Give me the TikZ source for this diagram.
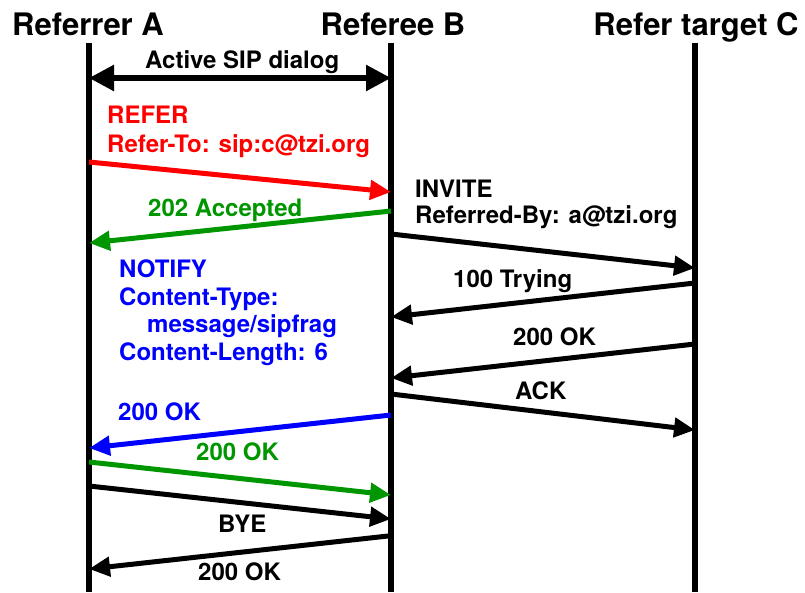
\documentclass[tikz,border=0pt]{standalone}
\usepackage{fontspec}
\setmainfont{TeX Gyre Heros}
\usetikzlibrary{arrows.meta}
\definecolor{sipred}{RGB}{255,0,0}
\definecolor{sipgreen}{RGB}{0,150,0}
\definecolor{sipblue}{RGB}{0,0,255}
\begin{document}
\begin{tikzpicture}[x=1pt,y=-1pt,
  lifeline/.style={line width=5.5pt},
  msg/.style={line width=5pt,-{Triangle[length=21pt,width=19pt]}},
  dmsg/.style={line width=5.5pt,{Triangle[length=25pt,width=25pt]}-{Triangle[length=25pt,width=25pt]}},
  title/.style={font=\bfseries\fontsize{31}{36}\selectfont,anchor=base,inner sep=0pt},
  lbl/.style={font=\bfseries\fontsize{24}{28}\selectfont,anchor=base west,inner sep=0pt}]
\useasboundingbox (0,0) rectangle (805,592);
% titles
\node[title] (tA) at (88,35) {Referrer A};
\node[title] (tB) at (393,35) {Referee B};
\node[title] (tC) at (696,35) {Refer target C};
% lifelines
\coordinate (A0) at (89,43); \coordinate (A1) at (89,592);
\coordinate (B0) at (391,43); \coordinate (B1) at (391,592);
\coordinate (C0) at (695,43); \coordinate (C1) at (695,592);
\draw[lifeline] (A0) -- (A1);
\draw[lifeline] (B0) -- (B1);
\draw[lifeline] (C0) -- (C1);
% active dialog
\coordinate (d1) at (89,78); \coordinate (d2) at (391,78);
\draw[dmsg] (d1) -- (d2);
\node[lbl] (ldlg) at (145,68) {Active SIP dialog};
% REFER
\coordinate (r1) at (89,162); \coordinate (r2) at (391,192);
\draw[msg,sipred] (r1) -- (r2);
\node[lbl,text=sipred] (lref1) at (107,123) {REFER};
\node[lbl,text=sipred] (lref2) at (107,152) {Refer-To: sip:c@tzi.org};
% 202 Accepted
\coordinate (g1) at (391,211); \coordinate (g2) at (89,243);
\draw[msg,sipgreen] (g1) -- (g2);
\node[lbl,text=sipgreen] (lacc) at (148,216) {202 Accepted};
% INVITE
\coordinate (i1) at (391,234); \coordinate (i2) at (695,268);
\draw[msg] (i1) -- (i2);
\node[lbl] (linv1) at (415,197) {INVITE};
\node[lbl] (linv2) at (415,223) {Referred-By: a@tzi.org};
% 100 Trying
\coordinate (t1) at (695,283); \coordinate (t2) at (391,317);
\draw[msg] (t1) -- (t2);
\node[lbl] (ltry) at (453,287) {100 Trying};
% 200 OK C->B
\coordinate (o1) at (695,344); \coordinate (o2) at (391,378);
\draw[msg] (o1) -- (o2);
\node[lbl] (lok1) at (513,345) {200 OK};
% ACK
\coordinate (k1) at (391,394); \coordinate (k2) at (695,430);
\draw[msg] (k1) -- (k2);
\node[lbl] (lack) at (515,399) {ACK};
% NOTIFY text
\node[lbl,text=sipblue] (ln1) at (119,277) {NOTIFY};
\node[lbl,text=sipblue] (ln2) at (119,305) {Content-Type:};
\node[lbl,text=sipblue] (ln3) at (147,332) {message/sipfrag};
\node[lbl,text=sipblue] (ln4) at (119,360) {Content-Length: 6};
% blue 200 OK
\coordinate (b1) at (391,415); \coordinate (b2) at (89,448);
\draw[msg,sipblue] (b1) -- (b2);
\node[lbl,text=sipblue] (lbok) at (118,420) {200 OK};
% green 200 OK
\coordinate (e1) at (89,462); \coordinate (e2) at (391,495);
\draw[msg,sipgreen] (e1) -- (e2);
\node[lbl,text=sipgreen] (lgok) at (196,460) {200 OK};
% BYE
\coordinate (y1) at (89,486); \coordinate (y2) at (391,519);
\draw[msg] (y1) -- (y2);
\node[lbl] (lbye) at (218,532) {BYE};
% 200 OK B->A
\coordinate (z1) at (388,536); \coordinate (z2) at (89,569);
\draw[msg] (z1) -- (z2);
\node[lbl] (lzok) at (198,580) {200 OK};
\end{tikzpicture}
\end{document}
